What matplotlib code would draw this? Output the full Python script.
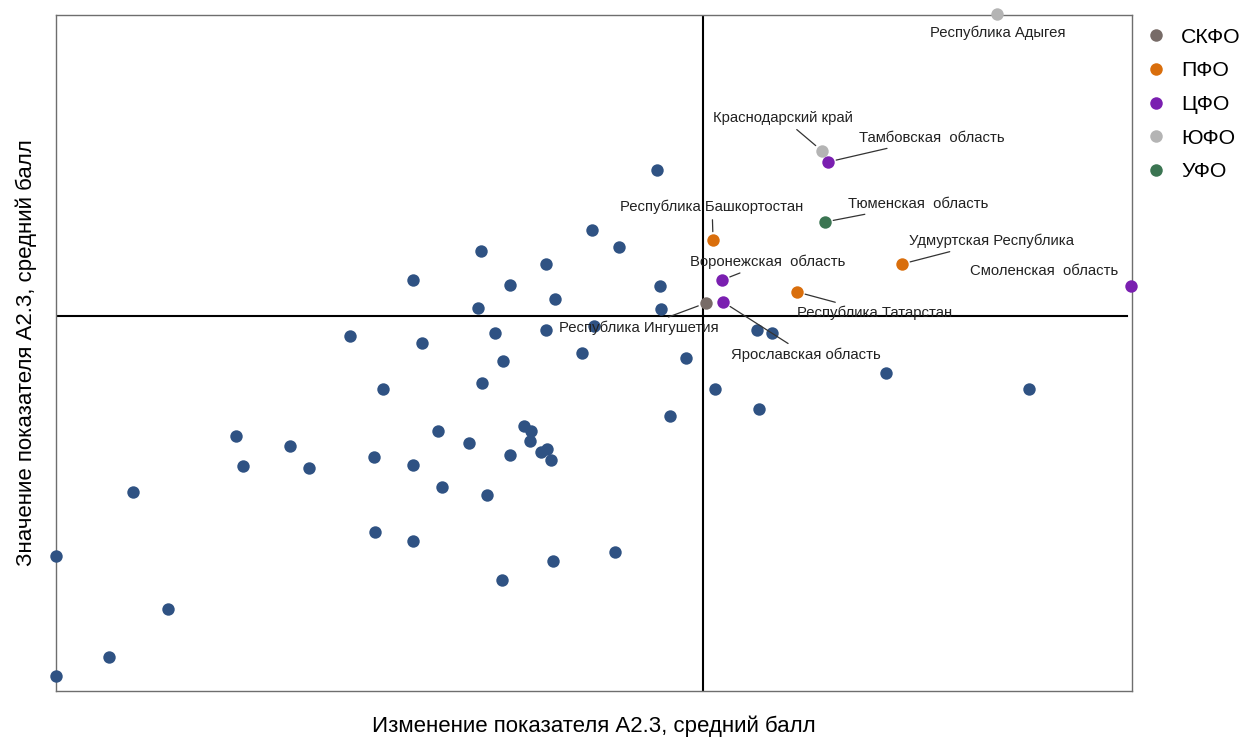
import matplotlib.pyplot as plt
from matplotlib.lines import Line2D

plt.rcParams['font.family'] = ['Liberation Sans', 'DejaVu Sans']

# regions without highlight (blue dots)
base_x = [0, 0, 53, 77, 112, 180, 187, 234, 253, 294, 318, 327, 319, 357, 366, 357, 357,
          382, 386, 413, 425, 422, 426, 431, 439, 447, 446, 454, 454, 468, 475, 474, 490,
          490, 485, 491, 495, 499, 497, 526, 536, 538, 559, 563, 601, 604, 605, 614, 630,
          659, 701, 716, 703, 830, 973]
base_y = [135, 15, 34, 199, 82, 255, 225, 245, 223, 355, 234, 302, 159, 411, 348, 226, 150,
          260, 204, 248, 440, 383, 308, 196, 358, 330, 111, 406, 236, 265, 260, 250, 427,
          361, 239, 242, 231, 392, 130, 338, 461, 365, 139, 444, 521, 405, 382, 275, 333,
          302, 361, 358, 282, 318, 302]

# highlighted regions
names = ['Республика Адыгея', 'Краснодарский край', 'Тамбовская  область', 'Тюменская  область',
         'Республика Башкортостан', 'Удмуртская Республика', 'Смоленская  область',
         'Воронежская  область', 'Республика Татарстан', 'Республика Ингушетия',
         'Ярославская область']
hx = [941, 766, 772, 769, 657, 846, 1075, 666, 741, 650, 667]
hy = [677, 540, 529, 469, 451, 427, 405, 411, 399, 388, 389]
district = ['ЮФО', 'ЮФО', 'ЦФО', 'УФО', 'ПФО', 'ПФО', 'ЦФО', 'ЦФО', 'ПФО', 'СКФО', 'ЦФО']

groups = ['СКФО', 'ПФО', 'ЦФО', 'ЮФО', 'УФО']
colors = {'СКФО': '#776b67', 'ПФО': '#d96e0c', 'ЦФО': '#7a1fb0', 'ЮФО': '#b4b4b4', 'УФО': '#3b7552'}

# label offsets in pixels (dx, dy up) and whether a leader line is drawn
offsets = [(1, -19), (-39, 33), (104, 24), (93, 18), (-1, 33), (89, 23), (-87, 15),
           (46, 18), (78, -21), (-67, -25), (83, -53)]
leader = [False, True, True, True, True, True, False, True, True, True, True]

vline_x = 647
hline_y = 375

fig = plt.figure(figsize=(12.45, 7.38), dpi=100)
ax = fig.add_axes([0.045, 0.0637, 0.8643, 0.916])

ax.axvline(vline_x, color='black', lw=1.5, zorder=1)
ax.axhline(hline_y, xmin=0, xmax=0.995, color='black', lw=1.5, zorder=1)

ax.scatter(base_x, base_y, s=80, color='#2f5283', zorder=3, clip_on=False, linewidths=0)
for i in range(len(names)):
    ax.scatter(hx[i], hy[i], s=80, color=colors[district[i]], zorder=4, clip_on=False,
               linewidths=0)
    arrow = dict(arrowstyle='-', color='#333333', lw=0.9, shrinkA=2, shrinkB=6) if leader[i] else None
    ax.annotate(names[i], (hx[i], hy[i]), xytext=offsets[i], textcoords='offset pixels',
                ha='center', va='center', fontsize=10.7, color='#222222',
                arrowprops=arrow, annotation_clip=False, zorder=5)

ax.set_xlim(0, 1076)
ax.set_ylim(0, 676)
ax.set_xticks([])
ax.set_yticks([])
for sp in ax.spines.values():
    sp.set_color('#6e6e6e')
    sp.set_linewidth(1)

ax.set_xlabel('Изменение показателя А2.3, средний балл', fontsize=16, labelpad=18)
ax.set_ylabel('Значение показателя А2.3, средний балл', fontsize=16, labelpad=14)

handles = [Line2D([], [], marker='o', linestyle='', markersize=9, color=colors[g],
                  markeredgewidth=0) for g in groups]
ax.legend(handles, groups, loc='upper left', bbox_to_anchor=(0.9884, 1.003), frameon=False,
          fontsize=15.3, handletextpad=0.2, labelspacing=0.69, borderaxespad=0.3)

fig.savefig('out.png', dpi=100)
